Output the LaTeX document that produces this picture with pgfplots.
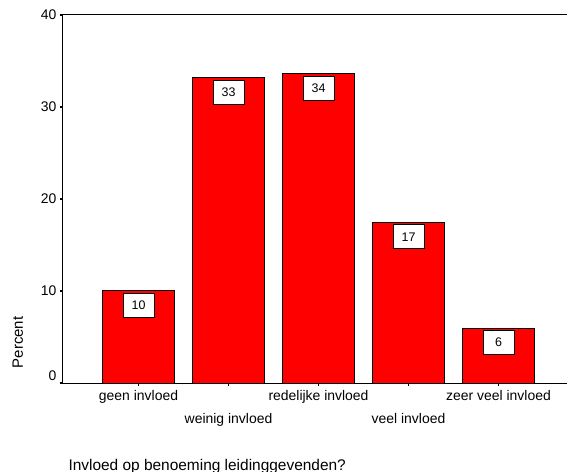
\documentclass[border=0pt]{standalone}
\usepackage{pgfplots}
\pgfplotsset{compat=1.18}
\usepackage{fontspec}
\setmainfont{Liberation Sans}
\begin{document}
\begin{tikzpicture}
\path[use as bounding box] (-63bp,-89bp) rectangle (504bp,383bp);
\begin{axis}[
  at={(0,0)}, anchor=south west,
  scale only axis, width=504bp, height=368bp,
  xmin=-0.839, xmax=4.761, ymin=0, ymax=40,
  axis x line=box, axis y line=left,
  axis line style={-, line width=1bp, black},
  ybar, bar width=72bp,
  ytick={10,20,30,40},
  extra y ticks={0},
  extra y tick style={ytick pos=left, yticklabel style={yshift=7bp}},
  xtick={0,2,4},
  xticklabels={geen invloed, redelijke invloed, zeer veel invloed},
  extra x ticks={1,3},
  extra x tick labels={weinig invloed, veel invloed},
  extra x tick style={xtick pos=bottom, xticklabel style={yshift=-23bp}},
  xtick pos=bottom, ytick pos=left,
  tick align=outside, major tick length=3bp,
  tick style={black, line width=1.3bp},
  every tick label/.append style={font=\fontsize{14}{16}\selectfont},
  xticklabel style={yshift=-1bp},
  /pgf/number format/assume math mode=true,
  clip=false,
]
\addplot[fill=red, draw=black, line width=1bp,
  nodes near coords={\pgfmathprintnumber[fixed,precision=0,assume math mode=true]{\pgfplotspointmeta}},
  point meta=y,
  every node near coord/.append style={anchor=north, yshift=-2bp, fill=white, draw=black,
    line width=0.8bp, minimum width=31bp, minimum height=24bp, inner sep=0pt,
    font=\fontsize{12.5}{14}\selectfont}]
coordinates {(0,10.03) (1,33.18) (2,33.59) (3,17.45) (4,5.95)};
\end{axis}
\node[rotate=90, anchor=base, font=\fontsize{15}{17}\selectfont] at (-40bp,40.5bp) {Percent};
\node[anchor=base west, font=\fontsize{15.5}{18}\selectfont] at (2bp,-87bp) {Invloed op benoeming leidinggevenden?};
\end{tikzpicture}
\end{document}
